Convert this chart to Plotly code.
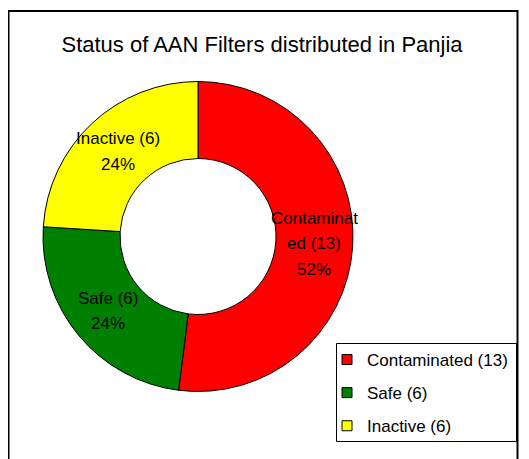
import math
import plotly.graph_objects as go

categories = ["Contaminated (13)", "Safe (6)", "Inactive (6)"]
values = [13, 6, 6]
slice_lines = [["Contaminat", "ed (13)"], ["Safe (6)"], ["Inactive (6)"]]
colors = ["#FF0000", "#008000", "#FFFF00"]
title_text = "Status of AAN Filters distributed in Panjia"

W, H = 529, 459
OFF = 8                  # page body margin offset
cx, cy = 198 - OFF, 236.5 - OFF      # pie centre in pixels
R_out, R_in = 155, 78
R_lab = (R_out + R_in) / 2
LINE_GAP = 25.5

def px(x):
    return x / W

def py(y):
    return 1 - y / H

fig = go.Figure()
fig.add_trace(go.Pie(
    labels=categories, values=values, sort=False, direction="clockwise", rotation=0,
    hole=R_in / R_out,
    marker=dict(colors=colors, line=dict(color="black", width=1)),
    textinfo="none", hoverinfo="label+value+percent", showlegend=False,
    domain=dict(x=[px(cx - R_out), px(cx + R_out)], y=[py(cy + R_out), py(cy - R_out)]),
))

# legend entries
for lab, col in zip(categories, colors):
    fig.add_trace(go.Scatter(
        x=[None], y=[None], mode="markers", name=lab, legendgroup=lab,
        marker=dict(symbol="square", size=10, color=col, line=dict(color="black", width=1)),
    ))

# slice labels at mid-angle
total = sum(values)
cum = 0
annotations = []
for v, lines in zip(values, slice_lines):
    mid = (cum + v / 2) / total * 2 * math.pi
    cum += v
    x = cx + R_lab * math.sin(mid)
    y = cy - R_lab * math.cos(mid)
    pct = round(v / total * 100)
    all_lines = lines + [f"{pct}%"]
    n = len(all_lines)
    for i, t in enumerate(all_lines):
        annotations.append(dict(
            x=px(x), y=py(y), xref="paper", yref="paper", showarrow=False,
            text=t, xanchor="center", yanchor="middle",
            yshift=((n - 1) / 2 - i) * LINE_GAP,
            font=dict(family="Liberation Sans, Arial, sans-serif", size=17, color="black"),
        ))

fig.update_layout(
    width=W, height=H, margin=dict(l=0, r=0, t=0, b=0),
    paper_bgcolor="white", plot_bgcolor="white",
    title=dict(text=title_text, x=px(262 - OFF), y=py(44 - OFF), xanchor="center", yanchor="middle",
               font=dict(family="Liberation Sans, Arial, sans-serif", size=22, color="black")),
    xaxis=dict(visible=False), yaxis=dict(visible=False),
    legend=dict(x=px(327 - OFF), y=py(342 - OFF), xanchor="left", yanchor="top",
                borderwidth=0, bgcolor="rgba(0,0,0,0)",
                traceorder="grouped", tracegroupgap=8,
                font=dict(family="Liberation Sans, Arial, sans-serif", size=17, color="black")),
    annotations=annotations,
    shapes=[
        dict(type="rect", xref="paper", yref="paper",
             x0=px(8.5 - OFF), x1=px(517.5 - OFF), y0=py(475), y1=py(11 - OFF),
             line=dict(color="black", width=2), fillcolor="rgba(0,0,0,0)"),
        dict(type="rect", xref="paper", yref="paper", layer="below",
             x0=px(336.5 - OFF), x1=px(516.5 - OFF), y0=py(441.5 - OFF), y1=py(343.5 - OFF),
             line=dict(color="black", width=1), fillcolor="white"),
    ],
)

fig.write_html("out.html")
